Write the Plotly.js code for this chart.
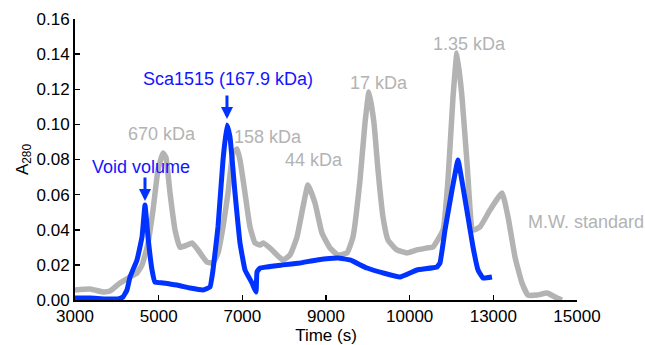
<!DOCTYPE html>
<html><head><meta charset="utf-8">
<script src="https://cdn.plot.ly/plotly-3.0.1.min.js"></script>
<style>html,body{margin:0;padding:0;background:#fff}#chart{width:645px;height:345px}</style>
</head><body><div id="chart"></div>
<script>
// M.W. standard (gray) trace
const stdTime = [3000,3359,3669,3837,4076,4315,4482,4602,4673,4745,4865,4984,5104,5175,5271,5390,5510,5677,5797,5940,6155,6299,6418,6538,6657,6777,6873,6944,7064,7183,7303,7422,7494,7661,7829,7972,8139,8307,8450,8570,8737,8904,9096,9287,9502,9645,9813,9932,10028,10147,10243,10362,10482,10697,10936,11175,11414,11558,11797,11916,12036,12131,12251,12371,12514,12681,12920,13207,13351,13518,13685,13829,14044,14283,14522,14641];
const stdA280 = [0.0057,0.0063,0.0046,0.0051,0.0097,0.0131,0.0154,0.0200,0.0256,0.0325,0.0512,0.0740,0.0837,0.0810,0.0610,0.0400,0.0300,0.0313,0.0325,0.0285,0.0216,0.0211,0.0268,0.0416,0.0609,0.0837,0.0860,0.0797,0.0609,0.0416,0.0325,0.0313,0.0325,0.0296,0.0256,0.0228,0.0256,0.0359,0.0530,0.0655,0.0552,0.0381,0.0296,0.0256,0.0268,0.0359,0.0683,0.1008,0.1184,0.1008,0.0740,0.0473,0.0342,0.0285,0.0268,0.0285,0.0296,0.0302,0.0399,0.0683,0.1156,0.1406,0.1156,0.0780,0.0399,0.0416,0.0512,0.0609,0.0473,0.0245,0.0097,0.0028,0.0028,0.0040,0.0011,0.0000];

// Sca1515 (blue) trace
const scaTime = [3000,3359,3717,4028,4147,4243,4315,4482,4602,4673,4745,4841,4912,5104,5438,5749,6060,6227,6299,6418,6538,6633,6705,6825,6944,7064,7231,7327,7351,7422,7972,8378,8785,9287,9574,9980,10362,10769,11175,11653,11725,11845,12012,12155,12275,12394,12514,12634,12753,12968];
const scaA280 = [0.0011,0.0011,0.0006,0.0006,0.0017,0.0057,0.0131,0.0228,0.0359,0.0541,0.0359,0.0171,0.0102,0.0097,0.0085,0.0068,0.0057,0.0074,0.0171,0.0416,0.0797,0.0996,0.0928,0.0609,0.0325,0.0171,0.0097,0.0046,0.0160,0.0182,0.0200,0.0211,0.0228,0.0239,0.0228,0.0182,0.0154,0.0131,0.0171,0.0188,0.0211,0.0399,0.0626,0.0797,0.0643,0.0473,0.0302,0.0171,0.0125,0.0131];

const xTickVals = [3000,5000,7000,9000,11000,13000,15000];
const xTickText = ["3000","5000","7000","9000","10000","13000","15000"];
const yTickVals = [0,0.02,0.04,0.06,0.08,0.10,0.12,0.14,0.16];

const BLUE = '#0033ff', BLUE_TXT = '#1414ff', GRAY = '#b3b3b3';
const FONT = 'Liberation Sans, Arial, sans-serif';

const traces = [
  {x: stdTime, y: stdA280, mode: 'lines', line: {color: GRAY, width: 5.5, shape: 'spline', smoothing: 0.4}, hoverinfo: 'skip'},
  {x: scaTime, y: scaA280, mode: 'lines', line: {color: BLUE, width: 5, shape: 'spline', smoothing: 0.3}, hoverinfo: 'skip'}
];

const ann = (text, x, y, color) => ({text, x, y, xref: 'x', yref: 'y', showarrow: false,
  font: {family: FONT, size: 18, color}, xanchor: 'center', yanchor: 'middle'});
const arrow = (x, y) => ({text: '', x, y, xref: 'x', yref: 'y', showarrow: true, ax: 0, ay: -25,
  arrowcolor: BLUE, arrowwidth: 3, arrowhead: 2, arrowsize: 0.8, standoff: 0});

const layout = {
  width: 645, height: 345,
  margin: {l: 75, r: 68, t: 19, b: 45},
  paper_bgcolor: '#fff', plot_bgcolor: '#fff',
  showlegend: false,
  font: {family: FONT, size: 17, color: '#000'},
  xaxis: {range: [3000, 15000], tickvals: xTickVals, ticktext: xTickText, ticks: 'inside', ticklen: 5, tickwidth: 1.5,
    tickcolor: '#000', showline: true, linecolor: '#000', linewidth: 2, showgrid: false, zeroline: false,
    title: {text: 'Time (s)', font: {size: 17}, standoff: 0}},
  yaxis: {range: [0, 0.16], tickvals: yTickVals, tickformat: '.2f', ticks: 'inside', ticklen: 5, tickwidth: 1.5,
    tickcolor: '#000', showline: true, linecolor: '#000', linewidth: 2, showgrid: false, zeroline: false,
    title: {text: 'A<sub>280</sub>', font: {size: 17}, standoff: 4}},
  annotations: [
    ann('Void volume', 4578, 0.0757, BLUE_TXT),
    arrow(4673, 0.0564),
    ann('Sca1515 (167.9 kDa)', 6657, 0.1258, BLUE_TXT),
    arrow(6633, 0.1030),
    ann('670 kDa', 5080, 0.0945, GRAY),
    ann('158 kDa', 7613, 0.0928, GRAY),
    ann('44 kDa', 8713, 0.0797, GRAY),
    ann('17 kDa', 10267, 0.1236, GRAY),
    ann('1.35 kDa', 12442, 0.1458, GRAY),
    {text: 'M.W. standard', x: 1.018, y: 0.0444, xref: 'paper', yref: 'y', showarrow: false,
      font: {family: FONT, size: 18, color: GRAY}, xanchor: 'center', yanchor: 'middle'}
  ]
};

Plotly.newPlot('chart', traces, layout, {displayModeBar: false, staticPlot: true});
</script></body></html>
